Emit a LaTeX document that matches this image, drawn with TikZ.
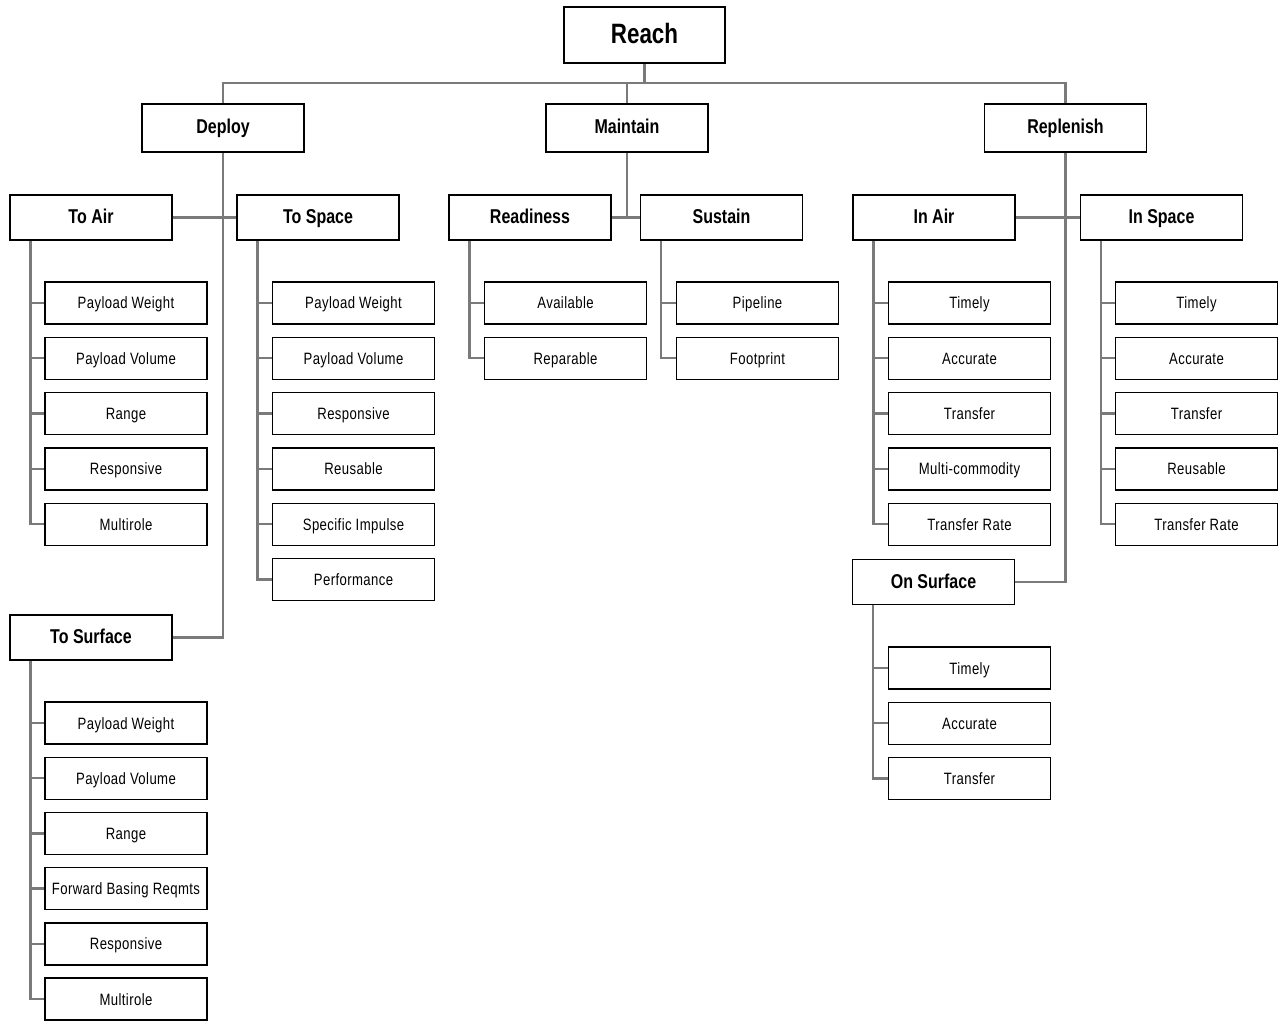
\documentclass[tikz,border=0pt]{standalone}
\usepackage{fontspec}
\setmainfont{Liberation Sans}[FakeStretch=0.8]
\newfontfamily\leaffont{Liberation Sans}[FakeStretch=0.8,LetterSpace=2.5]
\usepackage{tikz}
\usetikzlibrary{backgrounds}

\tikzset{
    box/.style={draw=black, line width=0.7pt, fill=white, inner sep=0pt, align=center,
                text height=0.8em, text depth=0.2em},
    top/.style={box, minimum width=80.5pt, minimum height=28pt, text height=11.5pt, text depth=2.5pt,
                font=\fontsize{14}{16}\selectfont\bfseries},
    branch/.style={box, minimum width=81pt, minimum height=24pt, font=\fontsize{10}{12}\selectfont\bfseries},
    group/.style={box, minimum width=81pt, minimum height=22.5pt, font=\fontsize{10}{12}\selectfont\bfseries},
    leaf/.style={box, minimum width=81pt, minimum height=21pt, font=\leaffont\fontsize{8.2}{10}\selectfont},
    link/.style={draw=black!52, line width=1.2pt},
}

\begin{document}
\begin{tikzpicture}[x=0.5pt, y=-0.5pt]
    \useasboundingbox (0,0) rectangle (1285,1021);

    \node[top] (reach) at (644.5,35) {Reach};
    \node[branch] (deploy) at (223,128) {Deploy};
    \node[branch] (maintain) at (627,128) {Maintain};
    \node[branch] (replenish) at (1065.5,128) {Replenish};

    \node[group] (toair) at (91,217.5) {To Air};
    \node[group] (tospace) at (318,217.5) {To Space};
    \node[group] (tosurface) at (91,637.5) {To Surface};
    \node[group] (readiness) at (530,217.5) {Readiness};
    \node[group] (sustain) at (721.5,217.5) {Sustain};
    \node[group] (inair) at (934,217.5) {In Air};
    \node[group] (inspace) at (1161.5,217.5) {In Space};
    \node[group] (onsurface) at (933.5,582) {On Surface};

    \node[leaf] (air1) at (126,303) {Payload Weight};
    \node[leaf] (air2) at (126,358.3) {Payload Volume};
    \node[leaf] (air3) at (126,413.6) {Range};
    \node[leaf] (air4) at (126,468.9) {Responsive};
    \node[leaf] (air5) at (126,524.2) {Multirole};

    \node[leaf] (space1) at (353.5,303) {Payload Weight};
    \node[leaf] (space2) at (353.5,358.3) {Payload Volume};
    \node[leaf] (space3) at (353.5,413.6) {Responsive};
    \node[leaf] (space4) at (353.5,468.9) {Reusable};
    \node[leaf] (space5) at (353.5,524.2) {Specific Impulse};
    \node[leaf] (space6) at (353.5,579.5) {Performance};

    \node[leaf] (surf1) at (126,723) {Payload Weight};
    \node[leaf] (surf2) at (126,778.2) {Payload Volume};
    \node[leaf] (surf3) at (126,833.4) {Range};
    \node[leaf] (surf4) at (126,888.6) {Forward Basing Reqmts};
    \node[leaf] (surf5) at (126,943.8) {Responsive};
    \node[leaf] (surf6) at (126,999) {Multirole};

    \node[leaf] (ready1) at (565.5,303) {Available};
    \node[leaf] (ready2) at (565.5,358.3) {Reparable};
    \node[leaf] (sust1) at (757.5,303) {Pipeline};
    \node[leaf] (sust2) at (757.5,358.3) {Footprint};

    \node[leaf] (inair1) at (969.5,303) {Timely};
    \node[leaf] (inair2) at (969.5,358.3) {Accurate};
    \node[leaf] (inair3) at (969.5,413.6) {Transfer};
    \node[leaf] (inair4) at (969.5,468.9) {Multi-commodity};
    \node[leaf] (inair5) at (969.5,524.2) {Transfer Rate};

    \node[leaf] (inspace1) at (1196.5,303) {Timely};
    \node[leaf] (inspace2) at (1196.5,358.3) {Accurate};
    \node[leaf] (inspace3) at (1196.5,413.6) {Transfer};
    \node[leaf] (inspace4) at (1196.5,468.9) {Reusable};
    \node[leaf] (inspace5) at (1196.5,524.2) {Transfer Rate};

    \node[leaf] (onsurf1) at (969.5,668) {Timely};
    \node[leaf] (onsurf2) at (969.5,723.2) {Accurate};
    \node[leaf] (onsurf3) at (969.5,778.4) {Transfer};

    \begin{scope}[on background layer]
    \coordinate (bus) at (644.5,83);
    \draw[link] (reach.south) -- (bus);
    \draw[link] (bus) -| (deploy.north);
    \draw[link] (bus) -| (maintain.north);
    \draw[link] (bus) -| (replenish.north);

    \draw[link] (deploy.south) |- (tosurface.east);
    \draw[link] (toair.east) -- (tospace.west);
    \draw[link] (maintain.south) -- (maintain.south |- readiness.east);
    \draw[link] (readiness.east) -- (sustain.west);
    \draw[link] (replenish.south) |- (onsurface.east);
    \draw[link] (inair.east) -- (inspace.west);

    \foreach \p/\c/\n in {toair/air/5, tospace/space/6, tosurface/surf/6,
                          readiness/ready/2, sustain/sust/2,
                          inair/inair/5, inspace/inspace/5, onsurface/onsurf/3}
        \foreach \i in {1,...,\n}
            \draw[link] ([xshift=10.5pt]\p.south west) |- (\c\i.west);
    \end{scope}
\end{tikzpicture}
\end{document}
